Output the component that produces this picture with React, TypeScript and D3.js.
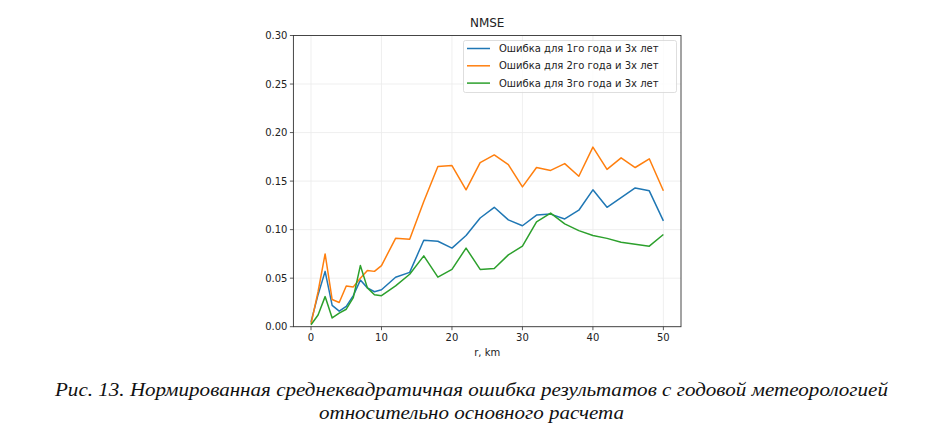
import React from "react";
import * as d3 from "d3";

const xValues = [0, 1, 2, 3, 4, 5, 6, 7, 8, 9, 10, 12, 14, 16, 18, 20, 22, 24, 26, 28, 30, 32, 34, 36, 38, 40, 42, 44, 46, 48, 50];
const series1 = [0.005, 0.033, 0.057, 0.022, 0.016, 0.021, 0.032, 0.048, 0.040, 0.036, 0.038, 0.051, 0.056, 0.089, 0.088, 0.081, 0.094, 0.112, 0.123, 0.110, 0.104, 0.115, 0.116, 0.111, 0.120, 0.141, 0.123, 0.133, 0.143, 0.140, 0.109];
const series2 = [0.003, 0.036, 0.075, 0.028, 0.025, 0.042, 0.041, 0.050, 0.058, 0.057, 0.063, 0.091, 0.090, 0.129, 0.165, 0.166, 0.141, 0.169, 0.177, 0.167, 0.144, 0.164, 0.161, 0.168, 0.155, 0.185, 0.162, 0.174, 0.164, 0.173, 0.140];
const series3 = [0.002, 0.012, 0.031, 0.009, 0.014, 0.018, 0.030, 0.063, 0.040, 0.033, 0.032, 0.042, 0.054, 0.073, 0.051, 0.059, 0.081, 0.059, 0.060, 0.074, 0.083, 0.108, 0.117, 0.106, 0.099, 0.094, 0.091, 0.087, 0.085, 0.083, 0.095];
const seriesNames = ["Ошибка для 1го года и 3х лет", "Ошибка для 2го года и 3х лет", "Ошибка для 3го года и 3х лет"];
const seriesColors = ["#1f77b4", "#ff7f0e", "#2ca02c"];
const xTicks = [0, 10, 20, 30, 40, 50];
const yTicks = [0, 0.05, 0.1, 0.15, 0.2, 0.25, 0.3];
const title = "NMSE";
const xLabel = "r, km";
const captionLines = [
  "Рис. 13. Нормированная среднеквадратичная ошибка результатов с годовой метеорологией",
  "относительно основного расчета",
];

export default function App() {
  const left = 293.4, right = 681, top = 35.5, bottom = 326.7;
  const x = d3.scaleLinear().domain([-2.5, 52.5]).range([left, right]);
  const y = d3.scaleLinear().domain([0, 0.3]).range([bottom, top]);
  const line = d3.line<[number, number]>().x(d => x(d[0])).y(d => y(d[1]));
  const all = [series1, series2, series3];
  const font = "DejaVu Sans, sans-serif";
  return (
    <svg width={931} height={436} style={{ position: "absolute", left: 0, top: 0, background: "#fff" }} fontFamily={font}>
      <rect width={931} height={436} fill="#fff" />
      {xTicks.map(t => (
        <line key={"gx" + t} x1={x(t)} x2={x(t)} y1={top} y2={bottom} stroke="#ebebeb" strokeWidth={0.8} />
      ))}
      {yTicks.map(t => (
        <line key={"gy" + t} x1={left} x2={right} y1={y(t)} y2={y(t)} stroke="#ebebeb" strokeWidth={0.8} />
      ))}
      {all.map((s, i) => (
        <path key={i} d={line(xValues.map((v, j) => [v, s[j]] as [number, number])) || ""} fill="none" stroke={seriesColors[i]} strokeWidth={1.5} strokeLinejoin="round" />
      ))}
      <rect x={left} y={top} width={right - left} height={bottom - top} fill="none" stroke="#333" strokeWidth={0.9} />
      {xTicks.map(t => (
        <g key={"xt" + t}>
          <line x1={x(t)} x2={x(t)} y1={bottom} y2={bottom + 3.5} stroke="#333" strokeWidth={0.8} />
          <text x={x(t)} y={bottom + 14} textAnchor="middle" fontSize={10} fill="#222">{t}</text>
        </g>
      ))}
      {yTicks.map(t => (
        <g key={"yt" + t}>
          <line x1={left - 3.5} x2={left} y1={y(t)} y2={y(t)} stroke="#333" strokeWidth={0.8} />
          <text x={left - 6} y={y(t) + 3.6} textAnchor="end" fontSize={10} fill="#222">{t.toFixed(2)}</text>
        </g>
      ))}
      <text x={(left + right) / 2} y={bottom + 29} textAnchor="middle" fontSize={10} fill="#222">{xLabel}</text>
      <text x={(left + right) / 2} y={27} textAnchor="middle" fontSize={12} fill="#222">{title}</text>
      <g>
        <rect x={463.5} y={40.5} width={213} height={52} rx={2} fill="#fff" fillOpacity={0.8} stroke="#d6d6d6" strokeWidth={0.8} />
        {seriesNames.map((n, i) => (
          <g key={n}>
            <line x1={467} x2={490} y1={48.5 + i * 17.3} y2={48.5 + i * 17.3} stroke={seriesColors[i]} strokeWidth={1.5} />
            <text x={499} y={52 + i * 17.3} fontSize={10} fill="#222">{n}</text>
          </g>
        ))}
      </g>
      {captionLines.map((c, i) => (
        <text key={i} x={471.5} y={396 + i * 23} textAnchor="middle" fontFamily="Liberation Serif, serif" fontStyle="italic" fontSize={19} fill="#111"
          textLength={i === 0 ? 833 : 305} lengthAdjust="spacingAndGlyphs">{c}</text>
      ))}
    </svg>
  );
}
